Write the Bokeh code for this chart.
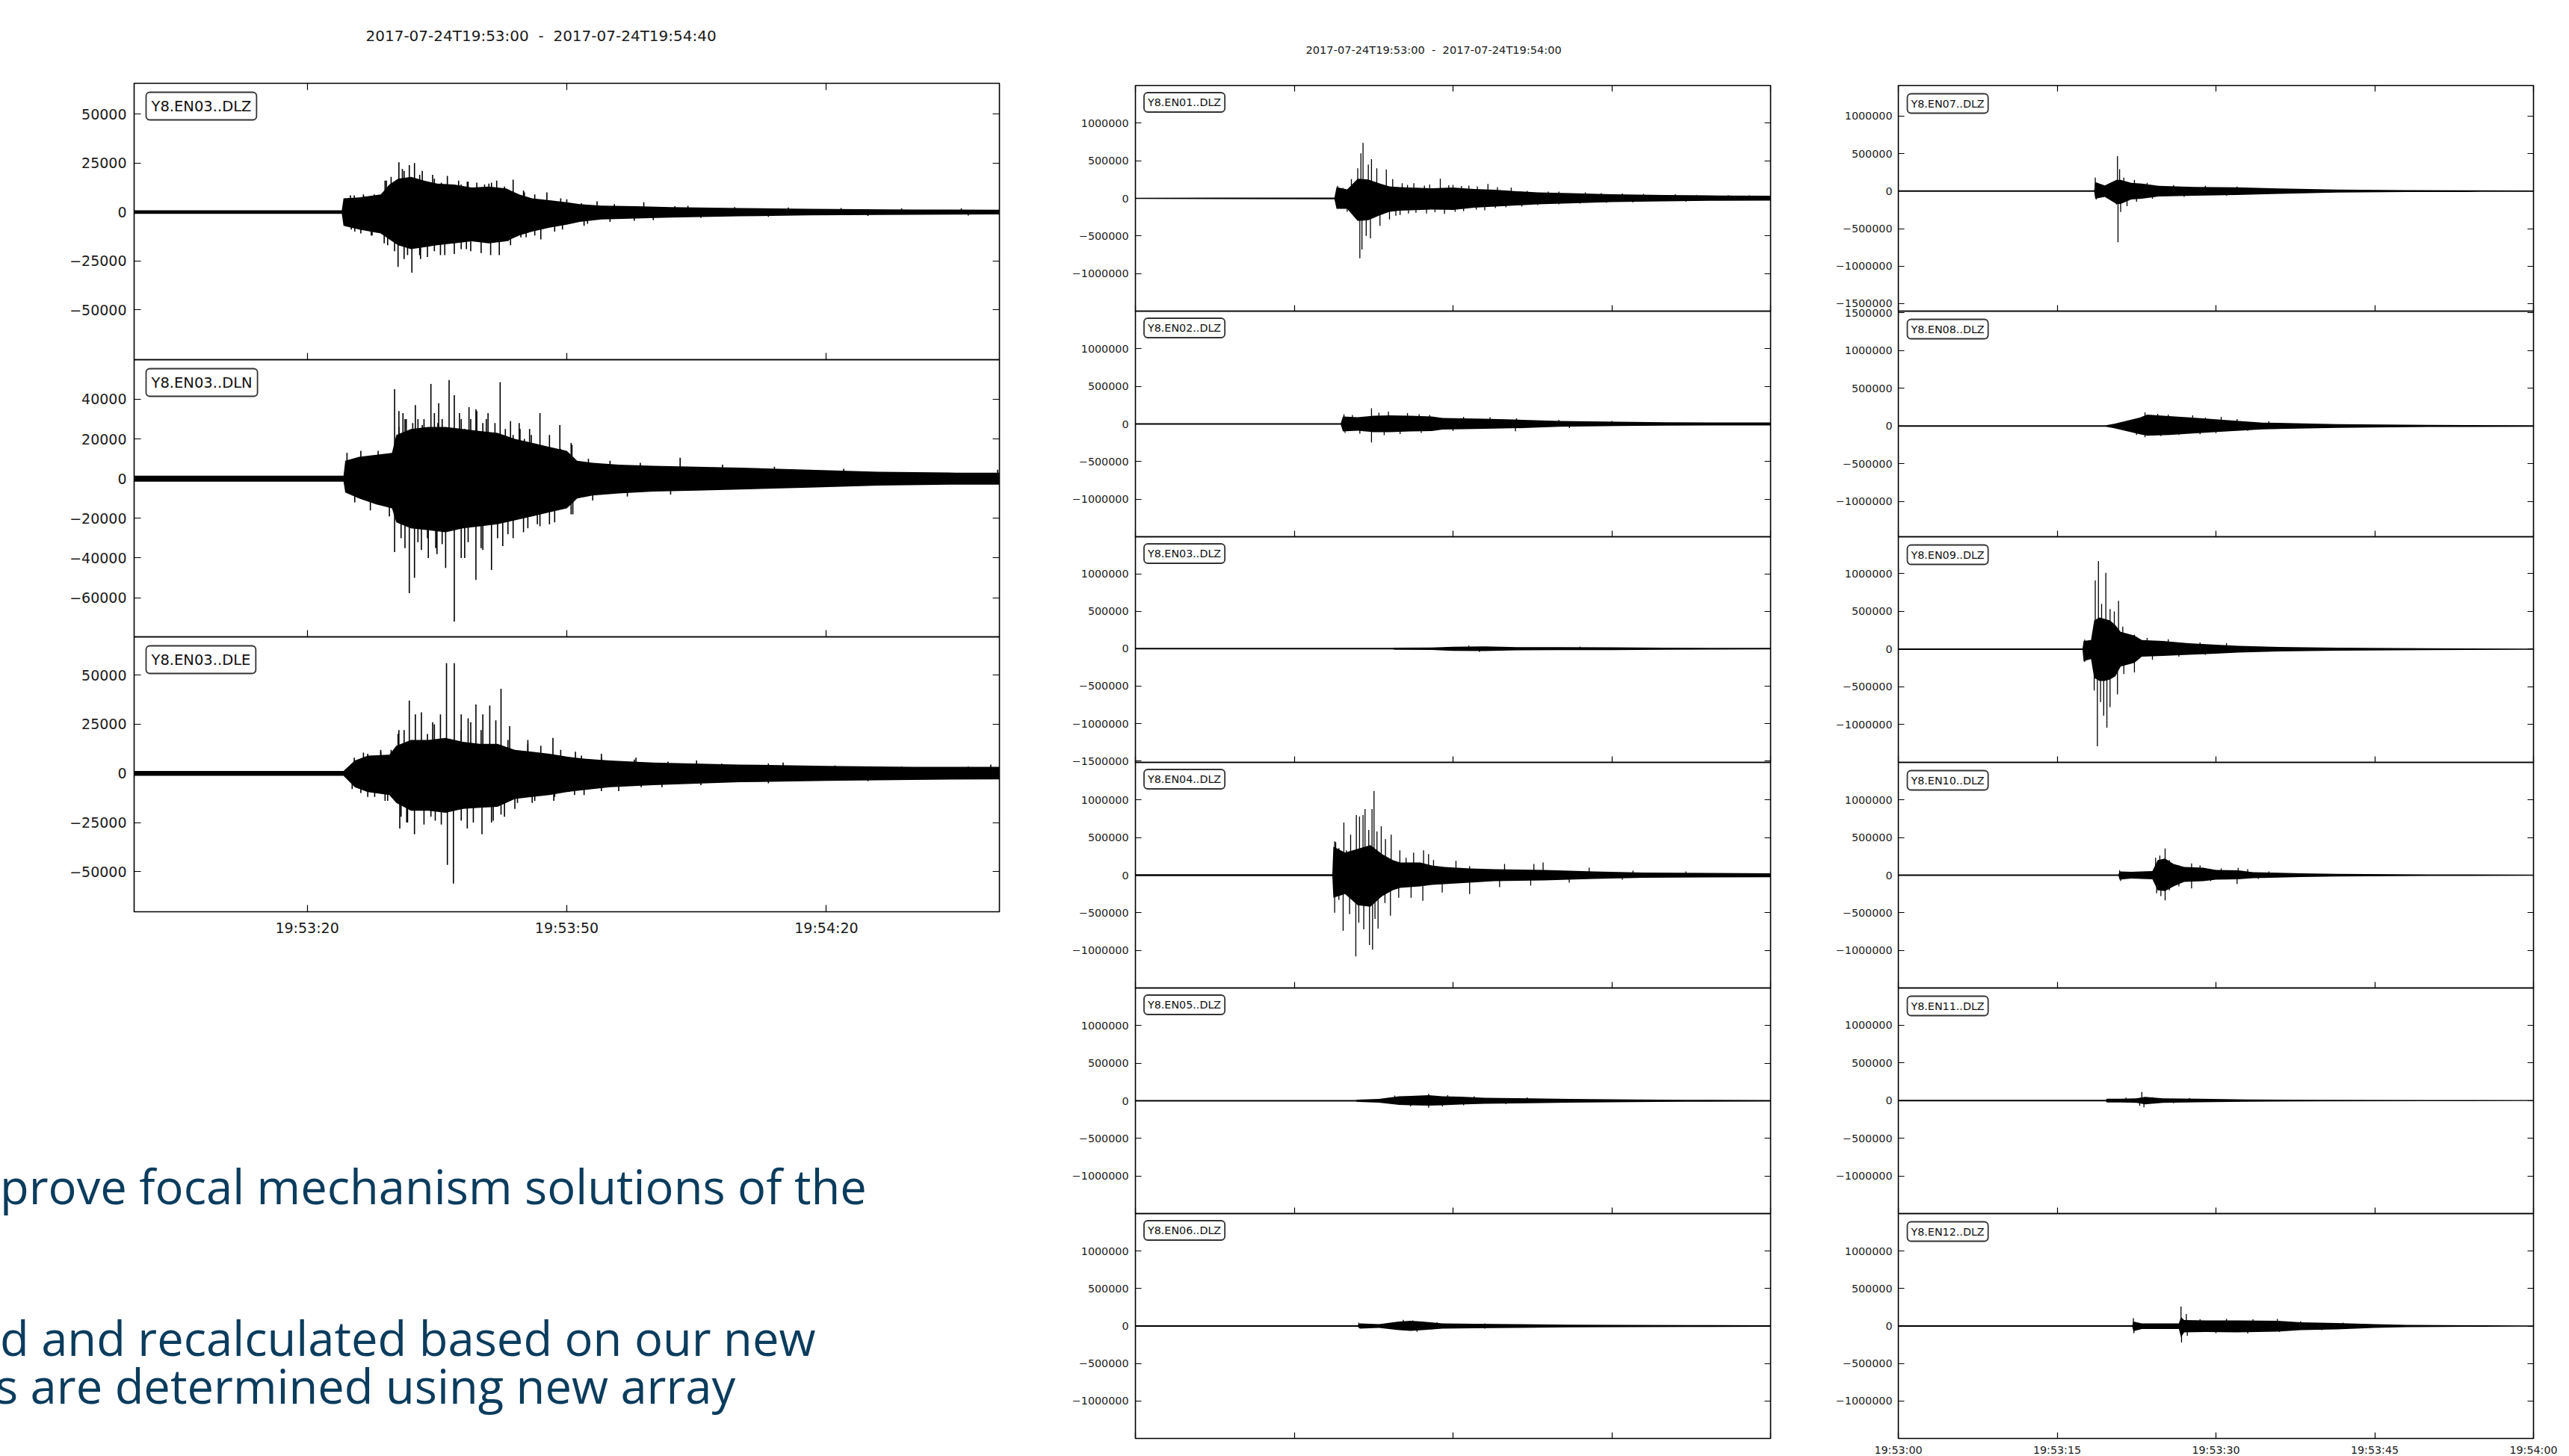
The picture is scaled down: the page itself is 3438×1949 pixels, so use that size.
from bokeh.plotting import figure
from bokeh.models import Range1d, LinearAxis, FixedTicker, Label, Div
from bokeh.layouts import column, row
from bokeh.embed import file_html
from bokeh.resources import INLINE
from bokeh.core.properties import value

# ------------------------------------------------------------------ data
NB = "\u00a0"
TITLE_LEFT = "2017-07-24T19:53:00" + NB * 2 + "-" + NB * 2 + "2017-07-24T19:54:40"
TITLE_ARRAY = "2017-07-24T19:53:00" + NB * 2 + "-" + NB * 2 + "2017-07-24T19:54:00"

LEFT_XTICKS = [20, 50, 80]
LEFT_XLABELS = ["19:53:20", "19:53:50", "19:54:20"]
ARRAY_XTICKS = [0, 15, 30, 45, 60]
ARRAY_XLABELS = ["19:53:00", "19:53:15", "19:53:30", "19:53:45", "19:54:00"]

TICKS_25K = [50000, 25000, 0, -25000, -50000]
LABELS_25K = ["50000", "25000", "0", "\u221225000", "\u221250000"]
TICKS_20K = [40000, 20000, 0, -20000, -40000, -60000]
LABELS_20K = ["40000", "20000", "0", "\u221220000", "\u221240000", "\u221260000"]
TICKS_M = [1000000, 500000, 0, -500000, -1000000]
LABELS_M = ["1000000", "500000", "0", "\u2212500000", "\u22121000000"]
TICKS_M_LOW = [1000000, 500000, 0, -500000, -1000000, -1500000]
LABELS_M_LOW = ["1000000", "500000", "0", "\u2212500000", "\u22121000000", "\u22121500000"]
TICKS_M_HIGH = [1500000, 1000000, 500000, 0, -500000, -1000000]
LABELS_M_HIGH = ["1500000", "1000000", "500000", "0", "\u2212500000", "\u22121000000"]

SLIDE_LINES = ["prove focal mechanism solutions of the",
               "d and recalculated based on our new",
               "s are determined using new array"]

# envelopes: (seconds after 19:53:00, upper, lower)
DLZ_env = [(0, 900, -900), (24.0, 900, -900), (24.2, 7000, -7000), (26, 7500, -9000), (28.5, 9000, -11000),
           (29.5, 14000, -14000), (30.5, 17000, -17000), (32, 18000, -19000), (33.5, 16000, -18000),
           (35, 14500, -17000), (37, 14000, -16000), (39, 12500, -15000), (41, 13000, -16000),
           (43, 12000, -15000), (44.5, 9000, -12000), (46, 7000, -10000), (48, 6000, -8000),
           (50, 5000, -6500), (51.5, 4000, -5000), (54, 3300, -3800), (58, 3000, -3300),
           (62, 2500, -2800), (70, 2000, -2200), (78, 1600, -1700), (90, 1300, -1400), (100, 1200, -1200)]
# peaks: (seconds, amplitude)
DLZ_spikes = [(25.0, 8500), (26.5, 9000), (27.8, 8000), (29.0, 16000), (30.6, 25400), (31.0, 22000),
              (31.8, 24000), (32.4, 25000), (33.3, 21000), (34.5, 19000), (36.2, 18400), (37.5, 16000),
              (38.5, 15500), (39.6, 15000), (41.0, 14500), (41.9, 16000), (43.8, 16500), (45.0, 11000),
              (47.7, 10000), (50.0, 6500), (53.5, 5500), (58.9, 5000), (64.0, 3200),
              (25.44, 8500), (26.6, 8000), (27.75, 9000), (29.16, 16000), (29.7, 18000), (31.2, 21000),
              (33.0, 19000), (34.7, 17000), (35.5, 15000), (37.8, 14000), (38.6, 15500), (40.5, 14000),
              (41.3, 15000), (42.8, 13000), (45.1, 10000), (46.3, 9000), (49.3, 7000), (51.7, 4500),
              (55.5, 4000), (62.5, 3000), (69.4, 2500), (75.6, 2300), (81.7, 2000), (88.7, 1800), (95.6, 1800),
              (25.5, -10000), (27.5, -12000), (29.3, -17000), (30.5, -28000), (31.2, -24000),
              (32.1, -31000), (33.0, -22000), (33.9, -23000), (35.4, -22000), (37.0, -21500),
              (38.4, -19000), (41.2, -22000), (42.2, -22000), (43.5, -17000), (45.3, -13000),
              (47.0, -14000), (49.5, -9000), (52.0, -7000), (55.0, -5000), (60.0, -4200),
              (25.1, -9000), (26.2, -11000), (27.4, -12000), (28.9, -16000), (30.1, -20000), (31.6, -22000),
              (33.1, -24000), (34.7, -20000), (35.9, -22000), (37.8, -19000), (38.9, -20000), (40.1, -21000),
              (43.2, -15000), (44.7, -13000), (46.3, -12000), (48.6, -10000), (52.4, -6000), (57.8, -4500),
              (65.5, -3000), (73.3, -2500), (84.8, -2000), (96.4, -1800)]

DLN_env = [(0, 1500, -1500), (24.2, 1500, -1500), (24.4, 9000, -7000), (26, 11000, -10000), (28, 12000, -13000),
           (29.8, 13000, -15000), (30.3, 22000, -22000), (32, 25000, -25000), (34, 26000, -26000),
           (36, 26000, -27000), (38, 25000, -25000), (40, 24000, -24000), (42, 23000, -23000),
           (44, 20000, -21000), (46, 18000, -19000), (48, 16000, -17000), (50, 14000, -15000),
           (51.2, 9000, -10000), (53, 8000, -8500), (56, 7000, -7500), (60, 6500, -6500), (65, 6000, -6000),
           (70, 5500, -5500), (78, 4500, -4500), (86, 3500, -3500), (95, 3000, -3000), (100, 3000, -3000)]
DLN_spikes = [(24.6, 13000), (26.2, 14000), (28.2, 14000), (30.1, 45000), (30.6, 34000), (31.3, 30000),
              (32.5, 37000), (33.5, 30000), (34.3, 47700), (35.2, 38000), (36.4, 49600), (37.0, 42000),
              (37.8, 30000), (38.7, 36000), (39.6, 34000), (40.7, 30000), (42.3, 48600), (43.5, 29000),
              (44.5, 28000), (45.7, 25000), (46.9, 33000), (48.0, 22000), (49.2, 27000), (50.6, 17000),
              (52.5, 10000), (55.0, 9000), (58.5, 8000), (63.1, 10500), (68.0, 7000), (74.0, 6000),
              (82.0, 5000), (99.8, 4500),
              (30.6, 26000), (31.07, 33000), (31.45, 30000), (32.2, 28000), (32.8, 30000), (33.3, 27000),
              (34.7, 33000), (35.1, 28000), (35.6, 30000), (37.6, 33000), (38.2, 25000), (38.9, 30000),
              (39.5, 35000), (40.3, 28000), (40.9, 33000), (41.7, 28000), (42.9, 25000), (43.8, 22000),
              (44.6, 25000), (45.1, 20000), (45.9, 22000), (48.2, 15000), (49.3, 15000), (50.5, 18000),
              (25.5, -12000), (27.3, -16000), (29.5, -19000), (30.1, -37000), (31.8, -57700),
              (32.4, -50000), (33.2, -36000), (34.0, -40000), (35.0, -38000), (36.0, -45000),
              (37.0, -72000), (38.2, -40000), (39.5, -51000), (40.3, -36000), (41.3, -46000),
              (42.6, -34000), (43.8, -30000), (45.0, -27000), (46.9, -24000), (48.0, -23000),
              (50.7, -18000), (53.0, -11000), (57.0, -9000), (62.0, -8000),
              (30.85, -30000), (31.3, -35000), (32.8, -32000), (33.9, -30000), (34.85, -35000),
              (35.6, -33000), (37.8, -40000), (38.6, -32000), (40.1, -35000), (42.0, -30000),
              (43.2, -28000), (45.5, -25000), (46.6, -23000), (48.6, -22000), (50.5, -18000)]

DLE_env = [(0, 1250, -1250), (24.2, 1250, -1250), (25.5, 6500, -7000), (27, 9000, -9500), (29.5, 9500, -11000),
           (30.3, 14000, -15000), (32, 17000, -19000), (34, 17000, -19000), (36, 18000, -20000),
           (38, 16000, -18000), (40, 15000, -17500), (42, 15000, -17000), (44, 12000, -13000),
           (46, 11000, -12000), (48, 10000, -11000), (50, 8500, -9500), (52, 7500, -8500),
           (55, 6500, -7000), (60, 5500, -6000), (70, 4500, -4500), (80, 3800, -3800),
           (90, 3300, -3300), (100, 3300, -3000)]
DLE_spikes = [(26.5, 10500), (28.5, 12000), (30.6, 22000), (31.8, 37000), (32.5, 30000), (33.2, 31000),
              (34.5, 26000), (35.4, 30000), (36.1, 56000), (37.0, 56000), (37.8, 30000), (38.6, 28000),
              (39.5, 35000), (40.3, 30000), (41.1, 34500), (41.8, 27000), (42.4, 43000), (43.4, 24000),
              (45.5, 17000), (48.4, 18000), (51.0, 11000), (54.0, 10000), (58.0, 8000), (65.0, 6500),
              (75.0, 5500), (99.0, 4500),
              (25.44, 8000), (27.0, 10000), (28.5, 11000), (29.7, 12000), (30.5, 20000), (31.2, 22000),
              (33.9, 20000), (34.7, 25000), (37.8, 22000), (38.9, 26000), (40.1, 22000), (43.2, 17000),
              (45.5, 15000), (47.0, 14000), (49.3, 12000), (51.7, 9000), (54.0, 8000), (57.8, 7000),
              (61.7, 6000), (67.9, 5000), (73.3, 5000), (81.0, 4000), (88.7, 3500), (96.4, 3500),
              (25.2, -8000), (27.0, -12000), (29.0, -14000), (30.7, -28000), (31.5, -25000),
              (32.4, -31000), (33.5, -26000), (34.8, -24000), (36.2, -46500), (36.9, -56000),
              (38.5, -28000), (39.2, -25000), (40.2, -31000), (41.5, -24000), (42.8, -22000),
              (44.0, -18000), (46.0, -15000), (48.5, -14000), (52.0, -11000), (56.0, -9000), (61.0, -7000),
              (26.2, -10000), (27.8, -12000), (29.3, -14000), (30.85, -22000), (31.6, -25000),
              (34.3, -22000), (35.5, -26000), (37.8, -24000), (41.3, -25000), (42.4, -21000),
              (44.3, -15000), (46.3, -14000), (48.6, -12000), (50.9, -11000), (54.0, -9000),
              (58.6, -7000), (65.5, -6000), (73.3, -5000), (84.8, -4000)]

EN01_env = [(0, 8000, -8000), (8, 10000, -10000), (18.8, 10000, -12000), (19.0, 150000, -140000),
            (20, 120000, -140000), (21.0, 260000, -300000), (22, 250000, -290000), (23, 200000, -230000),
            (24, 160000, -180000), (25, 150000, -165000), (26, 145000, -160000), (28, 135000, -150000),
            (30, 145000, -155000), (32, 125000, -125000), (34, 115000, -110000), (36, 95000, -95000),
            (38, 80000, -80000), (41, 70000, -66000), (45, 55000, -50000), (50, 45000, -40000),
            (55, 38000, -32000), (60, 35000, -30000)]
EN01_spikes = [(19.1, 166000), (20.4, 256000), (21.0, 400000), (21.3, 598000), (21.5, 737000), (22.0, 450000),
               (22.3, 521000), (22.8, 400000), (23.7, 382000), (24.3, 256000), (25.2, 200000), (26.3, 200000),
               (27.3, 170000), (28.8, 262000), (30.0, 180000), (31.5, 170000), (33.3, 192000), (35.5, 143000),
               (37.0, 100000), (40.0, 90000), (44.0, 70000), (48.0, 60000), (53.0, 45000), (58.0, 40000),
               (19.6, 140000), (25.7, 180000), (27.8, 185000), (29.6, 175000), (30.8, 165000), (32.3, 160000),
               (34.2, 150000), (39.0, 90000), (42.5, 80000), (46.0, 65000), (51.0, 55000), (56.0, 42000),
               (19.2, -133000), (20.0, -180000), (21.2, -797000), (21.4, -681000), (21.8, -500000),
               (22.2, -531000), (23.1, -365000), (24.0, -280000), (25.0, -220000), (26.5, -190000),
               (27.5, -200000), (29.2, -206000), (31.0, -170000), (33.0, -160000), (35.0, -120000),
               (38.0, -90000), (42.0, -70000), (47.0, -55000),
               (24.6, -230000), (25.8, -200000), (28.3, -185000), (30.2, -180000), (32.2, -150000),
               (34.0, -130000), (36.5, -110000), (40.0, -80000), (44.5, -60000), (52.0, -45000)]

EN02_env = [(0, 10000, -10000), (19.4, 10000, -10000), (19.6, 100000, -100000), (21, 90000, -90000),
            (22.5, 110000, -110000), (24, 115000, -110000), (26, 110000, -100000), (28, 100000, -95000),
            (29, 80000, -75000), (31, 75000, -70000), (33, 70000, -65000), (36.6, 55000, -55000),
            (40, 40000, -38000), (45.6, 30000, -28000), (50, 22000, -22000), (55, 20000, -20000),
            (60, 20000, -20000)]
EN02_spikes = [(19.7, 130000), (20.5, 120000), (22.3, 209000), (23.0, 150000), (23.9, 165000), (25.7, 143000),
               (26.8, 130000), (27.8, 120000), (31.0, 95000), (33.5, 90000), (36.0, 75000), (40.0, 55000),
               (45.0, 40000),
               (19.8, -120000), (21.2, -130000), (22.3, -246000), (23.5, -150000), (25.0, -135000),
               (27.0, -120000), (30.0, -95000), (35.9, -98000), (41.0, -55000)]

EN03_env = [(0, 10000, -10000), (24.3, 10000, -10000), (24.5, 14000, -14000), (28, 16000, -16000),
            (30, 25000, -28000), (33, 30000, -32000), (36, 22000, -22000), (40, 20000, -20000),
            (45, 18000, -18000), (50, 13000, -13000), (55, 11000, -11000), (60, 10000, -10000)]
EN03_spikes = [(31.5, 40000), (32.5, -45000), (42.0, 28000)]

EN04_env = [(0, 12000, -12000), (18.6, 12000, -12000), (18.7, 380000, -300000), (19.8, 300000, -250000),
            (21.0, 350000, -400000), (22.2, 400000, -420000), (23.3, 280000, -280000), (24.3, 200000, -200000),
            (25.0, 170000, -170000), (26.9, 170000, -150000), (28.0, 130000, -130000), (29.2, 110000, -120000),
            (31.6, 90000, -100000), (33.9, 80000, -80000), (38.6, 70000, -70000), (43.3, 50000, -50000),
            (48.0, 35000, -35000), (54, 30000, -30000), (60, 25000, -28000)]
EN04_spikes = [(18.82, 450000), (18.92, 440000), (19.22, 360000), (19.69, 700000), (19.93, 330000),
               (20.33, 540000), (20.87, 800000), (21.17, 780000), (21.5, 800000), (21.69, 880000),
               (22.04, 600000), (22.35, 880000), (22.54, 1120000), (22.82, 580000), (23.22, 650000),
               (23.62, 480000), (24.16, 540000), (24.98, 330000), (25.57, 230000), (26.28, 300000),
               (27.22, 330000), (27.69, 280000), (28.16, 200000), (30.28, 190000), (31.57, 120000),
               (34.87, 150000), (37.64, 150000), (38.51, 170000), (42.86, 100000), (47.0, 60000), (52.0, 50000),
               (18.82, -500000), (19.22, -330000), (19.62, -740000), (20.23, -520000), (20.82, -1080000),
               (21.10, -630000), (21.57, -720000), (22.11, -930000), (22.40, -990000), (22.63, -580000),
               (22.92, -710000), (23.57, -370000), (24.09, -540000), (24.87, -300000), (26.04, -300000),
               (27.15, -340000), (28.98, -230000), (31.57, -250000), (34.40, -160000), (37.34, -140000),
               (40.98, -100000), (46.0, -60000)]

EN05_env = [(0, 10000, -10000), (20.8, 10000, -10000), (21.0, 15000, -15000), (23, 25000, -25000),
            (24.9, 60000, -55000), (26, 65000, -60000), (27.7, 75000, -65000), (29, 60000, -60000),
            (30.7, 55000, -50000), (33, 40000, -40000), (36, 35000, -35000), (41, 25000, -25000),
            (47, 18000, -18000), (52, 12000, -12000), (60, 10000, -10000)]
EN05_spikes = [(24.5, 70000), (27.7, 93000), (29.5, 75000), (32.0, 60000), (37.0, 45000),
               (27.7, -93000), (26.0, -75000), (29.0, -75000), (31.0, -60000), (35.0, -45000)]

EN06_env = [(0, 10000, -10000), (21.0, 10000, -10000), (21.2, 35000, -35000), (23, 25000, -25000),
            (24.9, 60000, -55000), (26, 70000, -65000), (27.1, 60000, -55000), (29, 35000, -35000),
            (32, 30000, -30000), (36, 25000, -25000), (41, 18000, -18000), (46, 14000, -14000),
            (52, 12000, -12000), (60, 10000, -10000)]
EN06_spikes = [(21.1, 45000), (25.3, 83000), (26.2, 75000), (28.5, 50000), (33.0, 35000),
               (26.6, -76000), (25.5, -60000), (28.0, -45000), (33.0, -35000)]

EN07_env = [(0, 10000, -10000), (18.5, 10000, -10000), (18.6, 120000, -100000), (19.5, 75000, -75000),
            (20.6, 150000, -170000), (21.0, 150000, -170000), (22, 110000, -110000), (23, 100000, -100000),
            (24.6, 70000, -70000), (28, 55000, -60000), (32, 50000, -50000), (36, 35000, -35000),
            (41.4, 20000, -20000), (48, 13000, -12000), (55, 10000, -10000), (60, 8000, -8000)]
EN07_spikes = [(18.6, 180000), (20.2, 107000), (20.7, 466000), (20.9, 292000), (21.3, 180000), (22.3, 150000),
               (23.5, 110000), (26.0, 80000), (29.0, 70000), (32.0, 60000),
               (18.7, -110000), (20.6, -178000), (20.75, -681000), (21.0, -278000), (21.6, -200000),
               (22.5, -140000), (24.0, -100000), (27.0, -75000), (31.0, -60000)]

EN08_env = [(0, 10000, -10000), (19.6, 10000, -10000), (19.7, 12000, -12000), (20.4, 30000, -30000),
            (22.8, 110000, -110000), (23.5, 150000, -130000), (25.6, 130000, -120000), (27.8, 110000, -100000),
            (30.7, 80000, -75000), (34.4, 45000, -45000), (41.4, 25000, -25000), (50, 14000, -14000),
            (60, 10000, -10000)]
EN08_spikes = [(22.0, 80000), (23.3, 180000), (24.5, 160000), (25.5, 150000), (27.8, 140000), (29.0, 110000),
               (30.5, 120000), (32.0, 90000), (35.0, 60000),
               (22.5, -120000), (23.3, -150000), (24.8, -135000), (26.5, -120000), (28.5, -110000),
               (30.0, -95000), (33.0, -65000)]

EN09_env = [(0, 10000, -10000), (17.4, 10000, -10000), (17.5, 110000, -160000), (18.2, 120000, -130000),
            (18.5, 380000, -380000), (19.0, 420000, -420000), (19.5, 400000, -420000), (20.0, 380000, -400000),
            (20.5, 320000, -360000), (21.0, 230000, -230000), (22.3, 180000, -180000), (23, 120000, -100000),
            (25, 110000, -90000), (27.4, 80000, -75000), (30, 60000, -60000), (32.1, 45000, -45000),
            (36, 30000, -30000), (41.4, 20000, -20000), (50, 12000, -12000), (60, 8000, -8000)]
EN09_spikes = [(17.6, 125000), (18.6, 912000), (18.9, 1168000), (19.2, 600000), (19.6, 1012000), (20.0, 532000),
               (20.4, 500000), (20.8, 640000), (21.2, 300000), (22.3, 192000), (23.5, 150000), (25.5, 130000),
               (28.5, 90000), (31.0, 80000),
               (17.6, -168000), (18.5, -548000), (18.8, -1288000), (19.1, -700000), (19.4, -880000),
               (19.7, -1040000), (20.0, -768000), (20.7, -600000), (21.3, -330000), (22.3, -308000),
               (24.0, -140000), (26.5, -100000), (29.0, -75000)]

EN10_env = [(0, 10000, -10000), (20.8, 10000, -10000), (20.9, 50000, -60000), (22, 45000, -45000),
            (24.0, 55000, -55000), (24.5, 200000, -200000), (25.2, 220000, -210000), (26.0, 150000, -150000),
            (27, 110000, -90000), (28.8, 100000, -80000), (30, 70000, -60000), (32.1, 65000, -55000),
            (33.5, 40000, -40000), (38, 25000, -25000), (41.4, 18000, -18000), (50, 10000, -10000),
            (60, 8000, -8000)]
EN10_spikes = [(20.9, 64000), (24.3, 230000), (24.7, 260000), (25.2, 355000), (25.6, 200000), (26.5, 130000),
               (27.7, 157000), (28.5, 130000), (30.5, 90000), (32.1, 97000), (33.0, 80000), (35.0, 50000),
               (21.0, -77000), (24.4, -240000), (24.8, -278000), (25.2, -335000), (25.6, -200000),
               (26.5, -150000), (27.7, -177000), (29.5, -80000), (32.0, -117000), (34.0, -50000)]

EN11_env = [(0, 10000, -10000), (19.6, 10000, -10000), (19.7, 25000, -25000), (21, 25000, -25000),
            (22.5, 30000, -30000), (23.3, 50000, -50000), (25, 30000, -30000), (28.4, 25000, -22000),
            (33, 15000, -15000), (40, 10000, -10000), (50, 8000, -8000), (60, 6000, -6000)]
EN11_spikes = [(23.0, 113000), (22.8, -70000), (23.2, -89000), (21.5, 40000), (24.0, 45000), (27.5, 35000),
               (26.0, -35000)]

EN12_env = [(0, 10000, -10000), (22.1, 10000, -10000), (22.2, 60000, -70000), (23, 35000, -40000),
            (26.5, 35000, -40000), (26.7, 120000, -150000), (27.0, 80000, -85000), (29, 75000, -80000),
            (32, 75000, -85000), (35.8, 70000, -75000), (38, 50000, -55000), (41.4, 40000, -45000),
            (45, 25000, -25000), (48, 15000, -15000), (55, 10000, -10000), (60, 8000, -8000)]
EN12_spikes = [(22.2, 105000), (26.7, 260000), (27.2, 160000), (28.5, 90000), (31.0, 95000), (33.5, 90000),
               (35.8, 95000), (38.0, 65000), (42.0, 45000),
               (22.25, -98000), (26.75, -220000), (27.3, -130000), (30.0, -95000), (33.0, -100000),
               (36.0, -80000), (40.0, -55000)]

# y-limits
YLIM = {
    "Y8.EN03..DLZ": (-75460, 65760), "Y8.EN03..DLN": (-79700, 59900), "Y8.EN03..DLE": (-70360, 69400),
    "Y8.EN01..DLZ": (-1500000, 1500000), "Y8.EN02..DLZ": (-1500000, 1500000),
    "Y8.EN03..DLZ.arr": (-1518000, 1495000), "Y8.EN04..DLZ": (-1500000, 1500000),
    "Y8.EN05..DLZ": (-1500000, 1500000), "Y8.EN06..DLZ": (-1500000, 1500000),
    "Y8.EN07..DLZ": (-1600000, 1408000), "Y8.EN08..DLZ": (-1471000, 1524000),
    "Y8.EN09..DLZ": (-1500000, 1490000), "Y8.EN10..DLZ": (-1500000, 1500000),
    "Y8.EN11..DLZ": (-1500000, 1494000), "Y8.EN12..DLZ": (-1500000, 1500000),
}

# ------------------------------------------------------------------ drawing
FONT = "DejaVu Sans"

LEFT_CFG = dict(fw=1158, mbl=179, mbr=11, font=19, lab_font=19.5, tick=9, pad=7, bdx=16, bdy=12,
                ystand=10, xstand=10, lw=1.6)
MID_CFG = dict(fw=850, mbl=171, mbr=10, font=14.3, lab_font=14.3, tick=8, pad=5, bdx=11.5, bdy=9.5,
               ystand=9, xstand=7, lw=1.3)
RIGHT_CFG = dict(fw=850, mbl=161, mbr=40, font=14.3, lab_font=14.3, tick=8, pad=5, bdx=12, bdy=11,
                 ystand=8, xstand=7, lw=1.3)


def make_axis(ticks, labels, show, font, tick, standoff):
    ax = LinearAxis(ticker=FixedTicker(ticks=ticks, minor_ticks=[]))
    ax.major_tick_in = tick
    ax.major_tick_out = 0
    ax.minor_tick_in = 0
    ax.minor_tick_out = 0
    ax.axis_line_color = None
    ax.major_tick_line_color = "black"
    ax.major_tick_line_width = 1.2
    ax.major_label_text_font = FONT
    if show:
        ax.major_label_overrides = {v: s for v, s in zip(ticks, labels)}
        ax.major_label_text_color = "#1a1a1a"
        ax.major_label_text_font_size = f"{font}px"
        ax.major_label_standoff = standoff
    else:
        ax.major_label_text_color = None
        ax.major_label_text_font_size = "1px"
        ax.major_label_standoff = 0
    return ax


def make_panel(name, env, spikes, xr, yr, yt, yl, xt, xl, cfg, fh, mbt, mbb, show_xl, top_axis, margin):
    t = [e[0] for e in env]
    hi = [e[1] for e in env]
    lo = [e[2] for e in env]
    st = [s[0] for s in spikes]
    sv = [s[1] for s in spikes]
    p = figure(frame_width=cfg["fw"], frame_height=fh, x_range=Range1d(*xr), y_range=Range1d(*yr),
               x_axis_type=None, y_axis_type=None, output_backend="svg", toolbar_location=None,
               min_border_left=cfg["mbl"], min_border_right=cfg["mbr"], min_border_top=mbt,
               min_border_bottom=mbb)
    p.margin = margin
    p.background_fill_color = None
    p.border_fill_color = None
    p.outline_line_color = "black"
    p.outline_line_width = 1.6
    p.varea(x=t, y1=lo, y2=hi, fill_color="black")
    p.segment(x0=st, y0=[0] * len(st), x1=st, y1=sv, line_color="black", line_width=cfg["lw"])
    p.add_layout(make_axis(yt, yl, True, cfg["font"], cfg["tick"], cfg["ystand"]), "left")
    p.add_layout(make_axis(yt, yl, False, cfg["font"], cfg["tick"], 0), "right")
    p.add_layout(make_axis(xt, xl, show_xl, cfg["font"], cfg["tick"], cfg["xstand"]), "below")
    if top_axis:
        p.add_layout(make_axis(xt, xl, False, cfg["font"], cfg["tick"], 0), "above")
    p.add_layout(Label(x=cfg["bdx"], y=fh - cfg["bdy"], x_units="screen", y_units="screen",
                       text=name.replace(".arr", ""), text_font=FONT, text_font_size=f"{cfg['lab_font']}px",
                       text_align="left", text_baseline="top", text_color="#111111",
                       background_fill_color="white", border_line_color="#333333",
                       border_line_width=1.8, padding=cfg["pad"], border_radius=5))
    return p


def title_strip(text, cfg, height, text_left, text_mid_y, size):
    """A bare strip above a column of panels that carries the time-window title."""
    tf = figure(frame_width=cfg["fw"], frame_height=height, x_range=Range1d(0, cfg["fw"]),
                y_range=Range1d(0, height), x_axis_type=None, y_axis_type=None, output_backend="svg",
                toolbar_location=None, min_border_left=cfg["mbl"], min_border_right=cfg["mbr"],
                min_border_top=0, min_border_bottom=0)
    tf.outline_line_color = None
    tf.background_fill_color = None
    tf.border_fill_color = None
    tf.text(x=[text_left], y=[height - text_mid_y], text=[text], text_font=value(FONT),
            text_font_size=f"{size}px", text_align="left", text_baseline="middle", text_color="#1a1a1a")
    return tf


# ---- left column: three components of EN03
left_specs = [
    ("Y8.EN03..DLZ", DLZ_env, DLZ_spikes, TICKS_25K, LABELS_25K, 370),
    ("Y8.EN03..DLN", DLN_env, DLN_spikes, TICKS_20K, LABELS_20K, 371),
    ("Y8.EN03..DLE", DLE_env, DLE_spikes, TICKS_25K, LABELS_25K, 368),
]
left_items = [title_strip(TITLE_LEFT, LEFT_CFG, 99, 310, 47, 20)]
for i, (nm, env, sp, yt, yl, fh) in enumerate(left_specs):
    mbt = 12
    mbb = 40 if i == 2 else 12
    margin = (0 if i == 0 else -12, 0, 0 if i == 2 else -12, 0)
    f = make_panel(nm, env, sp, (0, 100), YLIM[nm], yt, yl, LEFT_XTICKS, LEFT_XLABELS, LEFT_CFG, fh,
                   mbt, mbb, show_xl=(i == 2), top_axis=(i == 0), margin=margin)
    left_items.append(f)

# slide text under the left plot (cropped slide background)
line_tops = [296, 499, 563]
line_lefts = [0, 0, -6]
html = '<div style="position:relative;width:1348px;height:689px;">'
for txt, top, left in zip(SLIDE_LINES, line_tops, line_lefts):
    html += ('<div style="position:absolute;left:%dpx;top:%dpx;font-family:\'Open Sans\';'
             'font-size:63.3px;line-height:63px;color:#0b3c5d;white-space:nowrap;">%s</div>' % (left, top, txt))
html += '</div>'
left_items.append(Div(text=html, width=1348, height=689, margin=(0, 0, 0, 0)))


def array_column(specs, cfg, top_title):
    figs = []
    if top_title:
        figs.append(title_strip(TITLE_ARRAY, cfg, 102, 228, 66, 14.6))
    n = len(specs)
    for i, (nm, env, sp, yt, yl) in enumerate(specs):
        fh = 301 if i == n - 1 else 302
        if i == 0:
            mbt = 12 if top_title else 114
        else:
            mbt = 12
        mbb = 24 if i == n - 1 else 12
        margin = (0 if i == 0 else -12, 0, 0 if i == n - 1 else -12, 0)
        f = make_panel(nm, env, sp, (0, 60), YLIM[nm], yt, yl, ARRAY_XTICKS, ARRAY_XLABELS, cfg, fh,
                       mbt, mbb, show_xl=(i == n - 1 and cfg is RIGHT_CFG), top_axis=(i == 0),
                       margin=margin)
        figs.append(f)
    return figs


mid_specs = [
    ("Y8.EN01..DLZ", EN01_env, EN01_spikes, TICKS_M, LABELS_M),
    ("Y8.EN02..DLZ", EN02_env, EN02_spikes, TICKS_M, LABELS_M),
    ("Y8.EN03..DLZ.arr", EN03_env, EN03_spikes, TICKS_M_LOW, LABELS_M_LOW),
    ("Y8.EN04..DLZ", EN04_env, EN04_spikes, TICKS_M, LABELS_M),
    ("Y8.EN05..DLZ", EN05_env, EN05_spikes, TICKS_M, LABELS_M),
    ("Y8.EN06..DLZ", EN06_env, EN06_spikes, TICKS_M, LABELS_M),
]
right_specs = [
    ("Y8.EN07..DLZ", EN07_env, EN07_spikes, TICKS_M_LOW, LABELS_M_LOW),
    ("Y8.EN08..DLZ", EN08_env, EN08_spikes, TICKS_M_HIGH, LABELS_M_HIGH),
    ("Y8.EN09..DLZ", EN09_env, EN09_spikes, TICKS_M, LABELS_M),
    ("Y8.EN10..DLZ", EN10_env, EN10_spikes, TICKS_M, LABELS_M),
    ("Y8.EN11..DLZ", EN11_env, EN11_spikes, TICKS_M, LABELS_M),
    ("Y8.EN12..DLZ", EN12_env, EN12_spikes, TICKS_M, LABELS_M),
]

mid_figs = array_column(mid_specs, MID_CFG, True)
right_figs = array_column(right_specs, RIGHT_CFG, False)

layout = row(column(*left_items), column(*mid_figs), column(*right_figs))

with open("out.html", "w") as fh_out:
    fh_out.write(file_html(layout, INLINE, title="seismograms"))
